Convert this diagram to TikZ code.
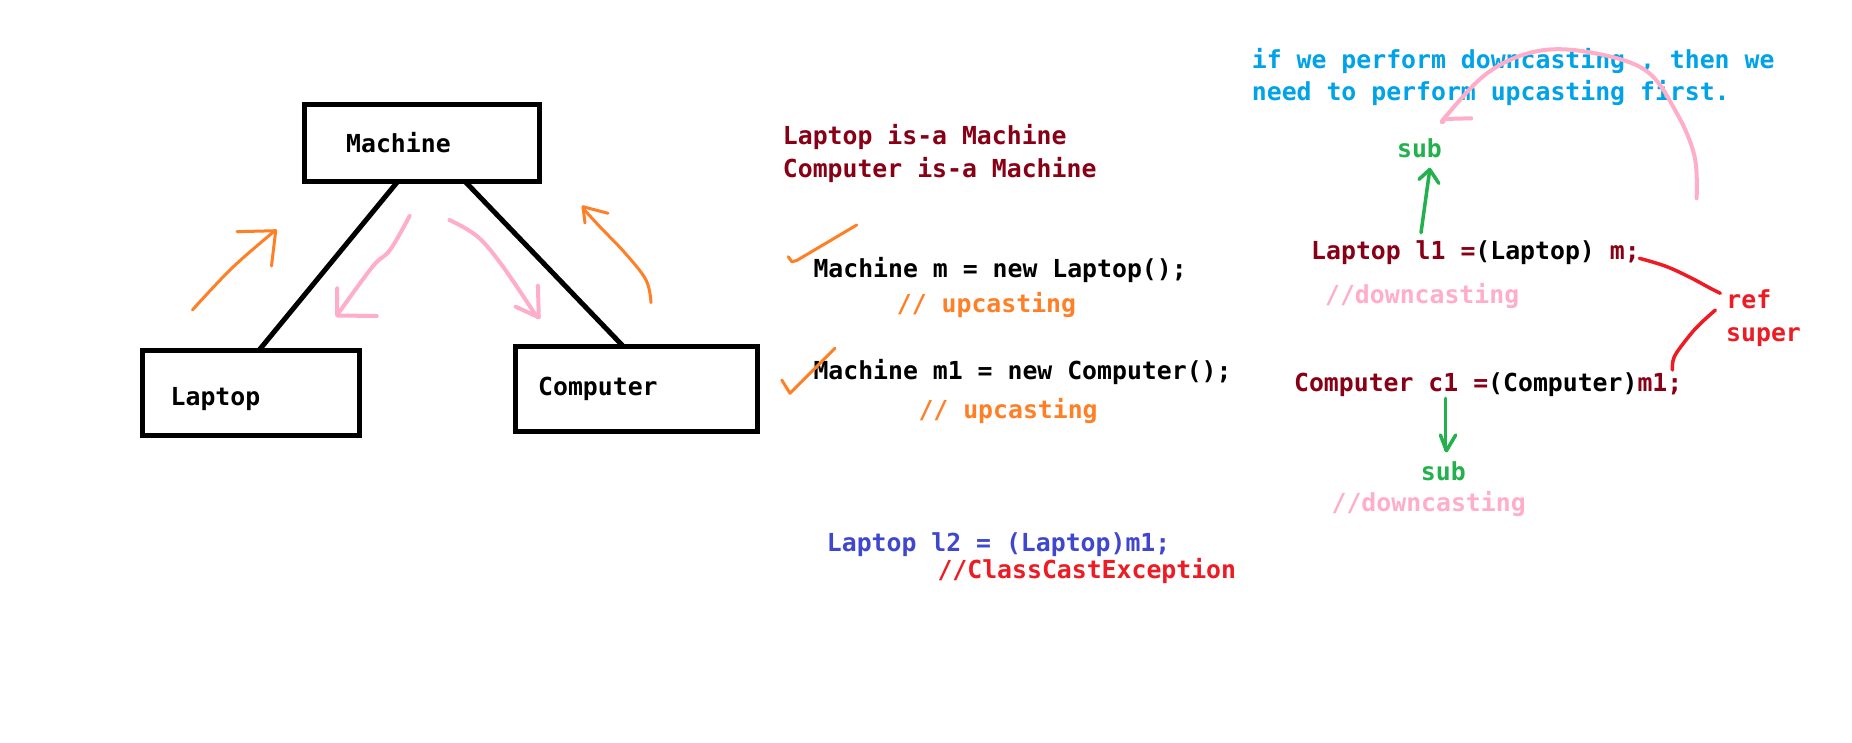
\documentclass[tikz,border=0pt]{standalone}
\usepackage{fontspec}
\setmonofont{DejaVu Sans Mono}
\usetikzlibrary{calc}
\definecolor{dred}{RGB}{136,0,21}
\definecolor{orng}{RGB}{255,127,39}
\definecolor{pnk}{RGB}{255,174,201}
\definecolor{indg}{RGB}{63,72,204}
\definecolor{rd}{RGB}{237,28,36}
\definecolor{cyn}{RGB}{0,162,232}
\definecolor{grn}{RGB}{34,177,76}
\begin{document}
\begin{tikzpicture}[x=1pt,y=-1pt,
  txt/.style={anchor=base west, inner sep=0pt, font=\ttfamily\bfseries\fontsize{24.8}{30}\selectfont},
  classbox/.style={draw=black, line width=5pt, rectangle, inner sep=0pt, outer sep=0pt},
  link/.style={draw=black, line width=5pt},
  orangestroke/.style={draw=orng, line width=3pt, line cap=round, line join=round},
  pinkstroke/.style={draw=pnk, line width=4pt, line cap=round, line join=round},
  greenstroke/.style={draw=grn, line width=3.5pt, line cap=round, line join=round},
  redstroke/.style={draw=rd, line width=3.5pt, line cap=round, line join=round}]
\useasboundingbox[fill=white] (0,0) rectangle (1852,743);

% class boxes
\node[classbox, minimum width=235.3pt, minimum height=77pt] (machine) at (422,143) {};
\node[classbox, minimum width=217.5pt, minimum height=84.5pt] (laptop) at (250.75,392.75) {};
\node[classbox, minimum width=242pt, minimum height=85.5pt] (computer) at (636,388.75) {};
\node[txt] (tmachine) at (346,152.7) {Machine};
\node[txt] (tlaptop) at (170.5,405) {Laptop};
\node[txt] (tcomputer) at (538,395) {Computer};

% inheritance lines
\draw[link] ($(machine.south west)!0.397!(machine.south east)$) -- ($(laptop.north west)!0.537!(laptop.north east)$);
\draw[link] ($(machine.south west)!0.683!(machine.south east)$) -- ($(computer.north west)!0.446!(computer.north east)$);

% hand arrows near the tree
\draw[orangestroke] plot[smooth, tension=0.6] coordinates {(192.4,310) (232,268) (274,231.5)};
\draw[orangestroke] (237,231.7) -- (275.7,230.7) -- (271.5,266);
\draw[pinkstroke] plot[smooth, tension=0.6] coordinates {(409.6,216) (390,250) (372.5,266.7) (337.2,315)};
\draw[pinkstroke] (376.7,316) -- (337.2,315.5) -- (337.2,288.3);
\draw[pinkstroke] plot[smooth, tension=0.6] coordinates {(449.5,220) (477.7,236.7) (503,266.7) (536.7,316.7)};
\draw[pinkstroke] (515.6,306.7) -- (538.8,317.3) -- (537.9,285.7);
\draw[orangestroke] plot[smooth, tension=0.6] coordinates {(651,302.7) (646,280) (625,253) (599.8,226.7) (583,208.3)};
\draw[orangestroke] (608,213.3) -- (583,206.7) -- (585,223);

% middle texts
\node[txt, text=dred] (isa1) at (782.7,145) {Laptop is-a Machine};
\node[txt, text=dred] (isa2) at (782.7,177.3) {Computer is-a Machine};
\node[txt] (up1) at (813.3,277.3) {Machine m = new Laptop();};
\node[txt, text=orng] (up1c) at (896.7,312.7) {// upcasting};
\node[txt] (up2) at (813.3,379.3) {Machine m1 = new Computer();};
\node[txt, text=orng] (up2c) at (918.3,418.3) {// upcasting};
\node[txt, text=indg] (l2) at (826.7,551.7) {Laptop l2 = (Laptop)m1;};
\node[txt, text=rd] (cce) at (937.3,578.3) {//ClassCastException};

% check marks
\draw[orangestroke] (788.3,256.7) -- (791.7,261.7) -- (796.7,260.5) -- (856.7,225);
\draw[orangestroke] (781.7,380) -- (790,393.3) -- (835,348.3);

% right texts
\node[txt, text=cyn] (note1) at (1251.7,68.3) {if we perform downcasting , then we};
\node[txt, text=cyn] (note2) at (1251.7,101) {need to perform upcasting first.};
\node[txt, text=grn] (sub1) at (1396.9,157.3) {sub};
\node[txt] (down1) at (1311,260) {\textcolor{dred}{Laptop l1 =}(Laptop)\ \textcolor{dred}{m;}};
\node[txt, text=pnk] (down1c) at (1324.9,303.3) {//downcasting};
\node[txt, text=rd] (ref) at (1726.2,308.3) {ref};
\node[txt, text=rd] (super) at (1726,341.7) {super};
\node[txt] (down2) at (1293.9,391.7) {\textcolor{dred}{Computer c1 =}(Computer)\textcolor{dred}{m1;}};
\node[txt, text=grn] (sub2) at (1420.7,480) {sub};
\node[txt, text=pnk] (down2c) at (1331.4,511.7) {//downcasting};

% green arrows
\draw[greenstroke] (1421,232.7) -- (1429.7,170);
\draw[greenstroke] (1419,179.3) -- (1429.7,169.5) -- (1438.8,183.3);
\draw[greenstroke] (1445.7,398.3) -- (1445.7,450);
\draw[greenstroke] (1440.4,435) -- (1446.4,450.7) -- (1455.7,435);

% red strokes
\draw[redstroke] plot[smooth, tension=0.6] coordinates {(1639.3,258.3) (1665,266) (1688.7,276.7) (1710.4,288.3) (1720.3,293.3)};
\draw[redstroke] plot[smooth, tension=0.6] coordinates {(1715.4,310) (1700,324) (1688.6,336.7) (1674.3,356.7) (1672.5,370)};

% pink arc
\draw[pinkstroke] plot[smooth, tension=0.6] coordinates {(1696.6,198.3) (1694.6,156.7) (1676.8,113.3) (1645,70) (1585.9,51.7) (1534.5,51.7) (1487,73.3) (1445.5,116.7) (1443.5,121.7)};
\draw[pinkstroke] (1443.5,119) -- (1471.2,118.3);
\end{tikzpicture}
\end{document}
